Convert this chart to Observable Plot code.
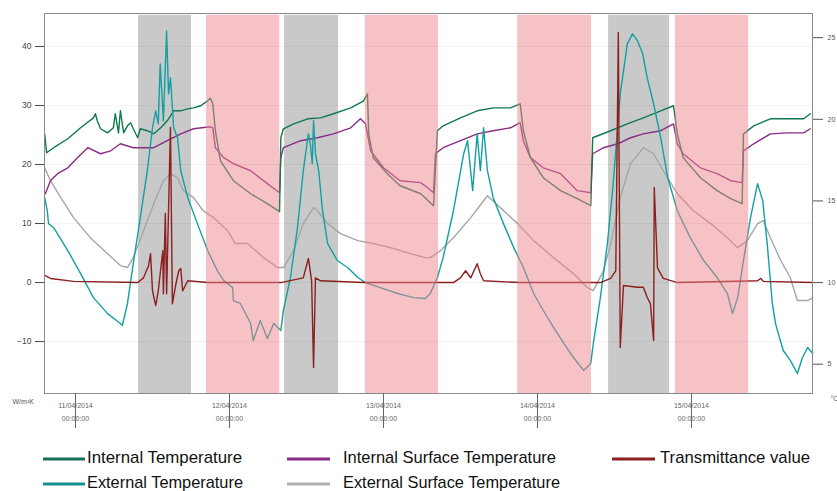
<!DOCTYPE html>
<html><head><meta charset="utf-8">
<script src="https://cdn.jsdelivr.net/npm/d3@7"></script>
<script src="https://cdn.jsdelivr.net/npm/@observablehq/plot@0.6"></script>
<style>
body{margin:0;background:#fff;}
#chart{width:837px;height:491px;overflow:hidden;}
#chart svg{display:block;}
</style>
</head><body><div id="chart"></div>
<script>
// Time in hours since 11/04/2014 00:00; temperatures in °C, transmittance in W/m²K
const internalTemperature = [[-4.8,19.1],[-4.5,17.95],[-3.4,18.26],[-1.2,18.81],[0.8,19.48],[2.8,20.09],[3.1,20.34],[3.4,19.91],[3.9,19.42],[5.0,19.17],[5.9,19.48],[6.2,20.34],[6.7,19.17],[7.0,20.52],[7.5,19.17],[8.1,19.6],[8.6,19.79],[9.0,19.42],[9.7,18.87],[10.1,19.42],[11.2,19.3],[12.2,19.11],[13.3,19.48],[14.3,19.91],[15.3,20.52],[16.4,20.52],[17.5,20.64],[18.4,20.7],[19.5,20.83],[20.6,21.13],[21.0,21.31],[21.4,20.95],[21.8,19.3],[22.6,17.46],[24.6,16.24],[27.3,15.44],[29.9,14.83],[31.8,14.34],[32.0,18.87],[32.4,19.42],[34.0,19.72],[36.2,20.03],[38.2,20.09],[40.2,20.34],[42.9,20.7],[44.9,21.13],[45.5,21.56],[45.7,19.11],[46.4,17.65],[48.6,16.67],[50.6,15.93],[53.8,15.44],[55.8,14.71],[56.4,19.3],[57.3,19.6],[60.0,20.09],[62.6,20.52],[65.1,20.7],[67.8,20.7],[69.3,20.95],[69.8,19.3],[70.9,17.65],[72.9,16.42],[75.6,15.63],[78.2,15.14],[80.3,14.71],[80.6,18.87],[83.4,19.3],[86.0,19.72],[88.5,20.09],[91.2,20.52],[93.2,20.83],[93.8,19.11],[94.7,17.65],[97.4,16.42],[100.0,15.63],[102.1,15.14],[103.9,14.83],[104.1,19.11],[105.7,19.6],[108.3,20.03],[111.0,20.03],[113.5,20.03],[114.5,20.34]];

const internalSurfaceTemperature = [[-4.7,15.44],[-3.9,16.24],[-2.8,16.67],[-1.2,17.03],[0.3,17.65],[1.9,18.26],[3.9,17.89],[5.5,18.07],[7.0,18.5],[9.0,18.26],[10.1,18.26],[12.2,18.26],[14.3,18.69],[16.4,19.11],[18.4,19.42],[21.0,19.54],[21.4,19.48],[21.8,18.26],[23.1,17.65],[24.6,17.28],[27.3,16.85],[29.9,16.06],[31.8,15.5],[32.0,17.65],[32.4,18.26],[35.1,18.69],[37.7,18.87],[40.2,19.11],[42.9,19.48],[44.4,20.03],[45.2,19.72],[46.0,18.07],[48.0,17.03],[50.6,16.24],[53.8,16.12],[54.9,15.81],[55.8,15.5],[56.1,17.89],[57.3,18.26],[60.0,18.69],[62.6,19.11],[65.1,19.3],[67.8,19.48],[69.3,19.79],[69.8,18.69],[70.9,17.65],[72.9,17.03],[75.6,16.67],[78.2,15.63],[80.3,15.5],[80.6,17.89],[82.3,18.26],[84.5,18.5],[86.5,18.87],[88.5,19.11],[91.2,19.3],[93.2,19.72],[93.8,18.5],[94.7,17.89],[97.4,17.03],[100.0,16.67],[102.1,16.24],[103.9,16.12],[104.1,18.07],[105.7,18.5],[108.3,19.11],[111.0,19.17],[113.5,19.17],[114.5,19.42]];

const externalTemperature = [[-4.8,15.2],[-4.4,14.4],[-4.2,13.61],[-3.4,13.36],[-1.2,11.96],[0.8,10.55],[2.8,9.08],[5.0,8.1],[7.0,7.49],[7.3,7.37],[8.1,8.72],[9.0,11.16],[10.1,13.98],[11.2,16.85],[12.0,19.48],[12.5,20.52],[12.9,19.72],[13.2,23.39],[13.7,19.91],[14.2,25.41],[14.5,21.56],[14.8,22.54],[15.3,19.48],[15.9,18.87],[16.4,16.85],[17.5,15.2],[19.0,13.61],[20.6,11.96],[22.1,10.73],[23.1,10.12],[24.5,9.69],[24.6,8.9],[25.7,8.72],[27.3,7.49],[27.7,6.45],[28.8,7.68],[29.9,6.57],[30.9,7.49],[32.0,7.06],[32.4,8.29],[33.5,10.31],[34.6,13.36],[35.5,16.85],[36.3,19.11],[36.6,18.5],[36.9,17.28],[37.1,19.91],[37.4,17.89],[37.9,16.85],[38.5,14.4],[39.3,12.39],[40.8,11.35],[42.4,10.92],[44.0,10.31],[45.2,10.0],[47.5,9.69],[50.2,9.33],[52.7,9.08],[54.5,9.02],[55.3,9.33],[56.4,10.31],[57.3,11.53],[58.9,14.4],[60.5,17.89],[61.1,18.69],[61.9,15.63],[62.6,19.11],[63.1,16.85],[63.6,19.48],[64.2,16.85],[65.1,15.2],[66.7,13.61],[68.3,12.14],[69.8,10.92],[71.4,9.33],[72.9,8.29],[74.5,7.25],[76.1,6.27],[77.6,5.41],[79.2,4.62],[80.3,5.05],[80.7,6.27],[81.8,9.08],[82.9,12.39],[83.8,16.06],[84.9,21.56],[86.0,24.62],[86.8,25.23],[87.6,24.8],[88.4,24.01],[89.1,22.54],[90.1,20.95],[91.2,18.87],[92.3,16.42],[93.8,14.4],[95.8,12.75],[97.9,11.35],[100.0,10.31],[101.6,9.33],[102.4,8.1],[103.2,9.08],[104.1,11.35],[105.2,13.98],[106.3,16.06],[107.1,15.02],[107.8,12.39],[108.6,8.72],[109.1,7.49],[109.4,7.06],[110.3,5.84],[111.4,5.23],[112.5,4.43],[113.3,5.41],[114.1,6.02],[114.9,5.66]];

const externalSurfaceTemperature = [[-4.8,17.03],[-3.9,16.24],[-2.3,15.2],[-0.3,13.98],[2.3,12.75],[5.0,11.77],[7.0,11.04],[8.1,10.92],[9.0,11.53],[10.6,13.18],[12.2,14.83],[13.7,16.24],[14.8,16.67],[15.9,16.42],[16.8,15.63],[18.4,15.2],[19.9,14.4],[21.5,13.98],[23.7,13.18],[24.9,12.39],[26.8,12.39],[29.3,11.53],[31.5,10.92],[32.4,10.92],[34.0,11.96],[35.5,13.61],[37.1,14.59],[37.7,14.4],[39.3,13.61],[41.3,13.0],[44.0,12.57],[46.4,12.39],[49.1,12.14],[52.2,11.77],[54.5,11.53],[55.3,11.53],[56.9,11.96],[58.9,12.75],[61.6,13.98],[64.2,15.32],[66.2,14.59],[68.9,13.61],[71.4,12.57],[74.5,11.53],[77.6,10.55],[79.8,9.69],[80.7,9.51],[82.3,10.73],[83.4,12.39],[84.9,15.2],[86.5,17.28],[88.5,18.26],[90.1,17.89],[91.6,16.85],[93.8,15.44],[96.3,14.4],[99.0,13.61],[101.6,12.75],[103.2,12.14],[104.7,12.57],[106.3,13.61],[107.2,13.79],[108.3,12.75],[109.9,11.35],[111.4,10.31],[112.5,8.9],[114.1,8.9],[114.9,9.08]];

const transmittanceValue = [[-4.8,1.2],[-3.9,0.7],[-0.3,0.2],[9.7,0],[10.6,0.8],[11.4,2.9],[11.7,4.9],[12.0,-1.4],[12.5,-3.9],[12.9,-1.4],[13.6,5.4],[13.7,-1.9],[14.0,11.7],[14.2,-1.9],[14.8,26.3],[15.1,-3.6],[15.6,-0.5],[16.1,2.0],[16.4,2.4],[16.7,-1.4],[17.5,0.3],[20.6,0],[32.0,0],[35.5,0.8],[36.3,4.1],[36.8,0.3],[37.1,-14.4],[37.4,0.8],[38.2,0.3],[44.9,0],[58.9,0],[60.0,0.8],[60.8,2.0],[61.6,0.8],[62.6,3.2],[63.1,1.5],[63.6,0.3],[69.3,0],[81.8,0],[83.4,0.7],[84.2,2.0],[84.6,42.4],[84.9,-11.0],[85.4,-0.5],[87.6,-0.8],[88.5,-0.8],[89.1,-2.5],[89.6,-3.6],[90.1,-9.8],[90.2,16.1],[90.7,2.5],[91.6,0.7],[93.8,0],[106.3,0.3],[106.8,0.7],[107.2,0.2],[114.9,0]];

const grayBands = [["2014-04-11T09:50","2014-04-11T18:05"],["2014-04-12T08:35","2014-04-12T17:00"],["2014-04-14T11:05","2014-04-14T20:35"]];
const pinkBands = [["2014-04-11T20:25","2014-04-12T07:50"],["2014-04-12T21:10","2014-04-13T08:35"],["2014-04-13T20:55","2014-04-14T08:25"],["2014-04-14T21:30","2014-04-15T08:55"]];

const leftTicks = [-10, 0, 10, 20, 30, 40];
const rightTicks = [5, 10, 15, 20, 25];
const dayTicks = ["2014-04-11","2014-04-12","2014-04-13","2014-04-14","2014-04-15"];

const seriesNames = ["Internal Temperature","External Temperature","Internal Surface Temperature","External Surface Temperature","Transmittance value"];
const seriesColors = ["#0f7a4c","#14a0a0","#8a2c84","#a6a6a6","#8c1f1f"];

// ---- build
const base = Date.UTC(2014, 3, 11);
const toDate = h => new Date(base + h * 3600000);
const K = 2.767; // W/m²K units per °C on the shared vertical scale (10 °C ↔ 0)
const tempToY = t => (t - 10) * K;
const band = b => ({x1: new Date(b[0] + ":00Z"), x2: new Date(b[1] + ":00Z")});

const lineData = (arr, isTemp) => arr.map(([h, v]) => ({t: toDate(h), v: isTemp ? tempToY(v) : v}));
const series = [
  {data: lineData(externalSurfaceTemperature, true), color: seriesColors[3]},
  {data: lineData(internalSurfaceTemperature, true), color: seriesColors[2]},
  {data: lineData(internalTemperature, true), color: seriesColors[0]},
  {data: lineData(externalTemperature, true), color: seriesColors[1]},
  {data: lineData(transmittanceValue, false), color: seriesColors[4]}
];

const fmt = d3.utcFormat("%d/%m/%Y");
const plot = Plot.plot({
  width: 837,
  height: 437,
  marginTop: 13,
  marginBottom: 44,
  marginLeft: 44,
  marginRight: 25,
  style: {fontFamily: "'Liberation Sans', Arial, sans-serif", background: "#fff", overflow: "visible"},
  x: {type: "utc", domain: [toDate(-4.83), toDate(114.86)]},
  y: {domain: [-18.8, 45.6]},
  marks: [
    Plot.rect(grayBands.map(band), {x1: "x1", x2: "x2", y1: -18.8, y2: 45.3, fill: "#c9c9c9"}),
    ...series.map(s => Plot.line(s.data, {x: "t", y: "v", stroke: s.color, strokeWidth: 1.4, strokeLinejoin: "round"})),
    Plot.rect(pinkBands.map(band), {x1: "x1", x2: "x2", y1: -18.8, y2: 45.3, fill: "#f0868d", fillOpacity: 0.5}),
    Plot.gridY(leftTicks, {stroke: "#000", strokeOpacity: 0.05}),
    Plot.frame({stroke: "#8a8a8a", strokeWidth: 1}),
    Plot.axisY(leftTicks, {anchor: "left", tickSize: 9, tickPadding: 4, fontSize: 8.5, color: "#444", label: null}),
    Plot.axisY(rightTicks.map(tempToY), {anchor: "right", tickSize: 10, tickPadding: 5, fontSize: 7, color: "#555", label: null,
      tickFormat: v => String(Math.round(v / K + 10))}),
    Plot.axisX(dayTicks.map(d => new Date(d + "T00:00:00Z")), {anchor: "bottom", tickSize: 35, tickPadding: -29, fontSize: 7, lineHeight: 1.8, color: "#666", label: null, lineWidth: 30,
      tickFormat: d => fmt(d) + "\n00:00:00"}),
    Plot.text(["W/m²K"], {frameAnchor: "bottom-left", dx: -32, dy: 10, textAnchor: "start", fontSize: 7, fill: "#555"}),
    Plot.text(["°C"], {frameAnchor: "bottom-right", dx: 18, dy: 7, textAnchor: "start", fontSize: 7, fill: "#555"})
  ]
});
document.getElementById("chart").appendChild(plot);

// ---- legend below the chart
const legendLayout = [
  {i: 0, x1: 43, x2: 85, tx: 87, w: 155, row: 0},
  {i: 2, x1: 287, x2: 330, tx: 343, w: 213, row: 0},
  {i: 4, x1: 612, x2: 655, tx: 660, w: 150, row: 0},
  {i: 1, x1: 43, x2: 85, tx: 87, w: 156, row: 1},
  {i: 3, x1: 287, x2: 330, tx: 343, w: 217, row: 1}
];
const legendColors = ["#17705a","#178f8f","#8a2c84","#b0b0b0","#8c1f1f"];
const lsvg = d3.select("#chart").append("svg").attr("width", 837).attr("height", 54);
const rowBase = [26, 51];
const rowLine = [22, 47];
for (const it of legendLayout) {
  lsvg.append("line").attr("x1", it.x1).attr("x2", it.x2).attr("y1", rowLine[it.row]).attr("y2", rowLine[it.row])
    .attr("stroke", legendColors[it.i]).attr("stroke-width", 3);
  lsvg.append("text").attr("x", it.tx).attr("y", rowBase[it.row])
    .attr("font-family", "'Liberation Sans Narrow','Arial Narrow','Liberation Sans',Arial,sans-serif")
    .attr("font-size", 17).attr("fill", "#111")
    .attr("textLength", it.w).attr("lengthAdjust", "spacingAndGlyphs")
    .text(seriesNames[it.i]);
}
</script></body></html>
